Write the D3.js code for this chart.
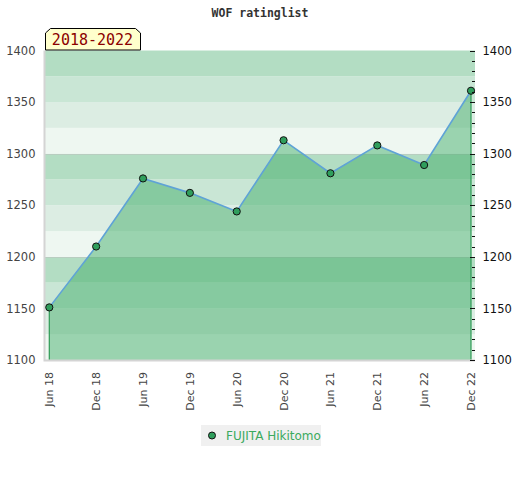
<!DOCTYPE html>
<html><head><meta charset="utf-8">
<script src="https://cdn.jsdelivr.net/npm/d3@7"></script>
<style>body{margin:0;background:#fff}svg{display:block}</style>
</head><body>
<svg id="c" width="520" height="480"></svg>
<script>
const categories = ["Jun 18","Dec 18","Jun 19","Dec 19","Jun 20","Dec 20","Jun 21","Dec 21","Jun 22","Dec 22"];
const ratings = [1151,1210,1276,1262,1244,1313,1281,1308,1289,1361];
const yTicks = [1100,1150,1200,1250,1300,1350,1400];
const seriesName = "FUJITA Hikitomo";
const periodLabel = "2018-2022";
const title = "WOF ratinglist";

const svg = d3.select("#c");
const L = 45, R = 475, T = 50.5, B = 360;
const x = d3.scalePoint().domain(categories).range([49.3, 471]);
const y = d3.scaleLinear().domain([1100,1400]).range([B, T]);

// background bands
const bandShades = ["#b3ddc3","#c9e6d5","#dcede3","#eef7f1"];
const bands = d3.range(1100, 1400, 25);
svg.append("g").selectAll("rect").data(bands).join("rect")
  .attr("x", L).attr("width", R-L)
  .attr("y", d => y(d+25)).attr("height", d => y(d) - y(d+25))
  .attr("fill", d => bandShades[3 - ((d-1100)/25)%4]);
// faint grid at hundreds
svg.append("g").selectAll("line").data([1300,1200]).join("line")
  .attr("x1", L).attr("x2", R).attr("y1", d=>Math.round(y(d))+0.5).attr("y2", d=>Math.round(y(d))+0.5)
  .attr("stroke", "rgba(190,190,190,0.5)");

const data = categories.map((c,i)=>({c, v: ratings[i]}));
const area = d3.area().x(d=>x(d.c)).y0(B).y1(d=>y(d.v));
svg.append("path").datum(data).attr("d", area).attr("fill", "rgba(61,171,102,0.475)");
// drop lines at ends
[data[0], data[data.length-1]].forEach(d=>{
  svg.append("line").attr("x1", x(d.c)).attr("x2", x(d.c)).attr("y1", y(d.v)).attr("y2", B)
    .attr("stroke", "#2e9a55").attr("stroke-width", 1.2);
});
const line = d3.line().x(d=>x(d.c)).y(d=>y(d.v));
svg.append("path").datum(data).attr("d", line).attr("fill","none").attr("stroke","#5fa3d6").attr("stroke-width",1.6);

// plot border
svg.append("path").attr("d", `M${L-0.5},${T} V${B+0.5} H${R}`).attr("fill","none").attr("stroke","#d4d4d4").attr("stroke-width",2);

// points
svg.append("g").selectAll("circle").data(data).join("circle")
  .attr("cx", d=>x(d.c)).attr("cy", d=>y(d.v)).attr("r", 3.6)
  .attr("fill", "#2f9e5c").attr("stroke", "#111").attr("stroke-width", 1);

// right minor ticks
svg.append("g").selectAll("line").data(d3.range(1100, 1401, 10)).join("line")
  .attr("x1", d => d%50===0 ? 470 : 472).attr("x2", 475)
  .attr("y1", d=>Math.round(y(d))+0.5).attr("y2", d=>Math.round(y(d))+0.5)
  .attr("stroke", "#111").attr("stroke-width", 1);

// left labels
svg.append("g").selectAll("text").data(yTicks).join("text")
  .attr("x", 35.5).attr("y", d=>y(d)).attr("dy","0.36em").attr("text-anchor","end")
  .attr("font-family","DejaVu Sans").attr("font-size",11.5).attr("fill","#444").text(d=>d);
// right labels
svg.append("g").selectAll("text").data(yTicks).join("text")
  .attr("x", 482.5).attr("y", d=>y(d)).attr("dy","0.36em").attr("text-anchor","start")
  .attr("font-family","DejaVu Sans").attr("font-size",11.5).attr("fill","#111").text(d=>d);

// x labels rotated
svg.append("g").selectAll("text").data(categories).join("text")
  .attr("transform", d=>`translate(${x(d)+4},372) rotate(-90)`)
  .attr("text-anchor","end")
  .attr("font-family","DejaVu Sans").attr("font-size",11).attr("fill","#444").text(d=>d);

// title
svg.append("text").attr("x", 260).attr("y", 17).attr("text-anchor","middle")
  .attr("font-family","DejaVu Sans Mono").attr("font-weight","bold").attr("font-size",11.5).attr("fill","#333").text(title);

// period label box
svg.append("path").attr("d","M45.5,50 V33 L50.5,28.5 H135.5 L140.5,33 V50 Z")
  .attr("fill","#ffffcc").attr("stroke","#000").attr("stroke-width",1);
svg.append("text").attr("x", 92.5).attr("y", 45).attr("text-anchor","middle")
  .attr("font-family","DejaVu Sans Mono").attr("font-size",15).attr("fill","#8b0000").text(periodLabel);

// legend
svg.append("rect").attr("x",201).attr("y",425).attr("width",120).attr("height",21).attr("fill","#f0f0f0");
svg.append("circle").attr("cx",212).attr("cy",435.5).attr("r",3.5).attr("fill","#2f9e5c").attr("stroke","#111");
svg.append("text").attr("x",226).attr("y",440).attr("font-family","DejaVu Sans").attr("font-size",12)
  .attr("fill","#3aaa5e").text(seriesName);
</script>
</body></html>
